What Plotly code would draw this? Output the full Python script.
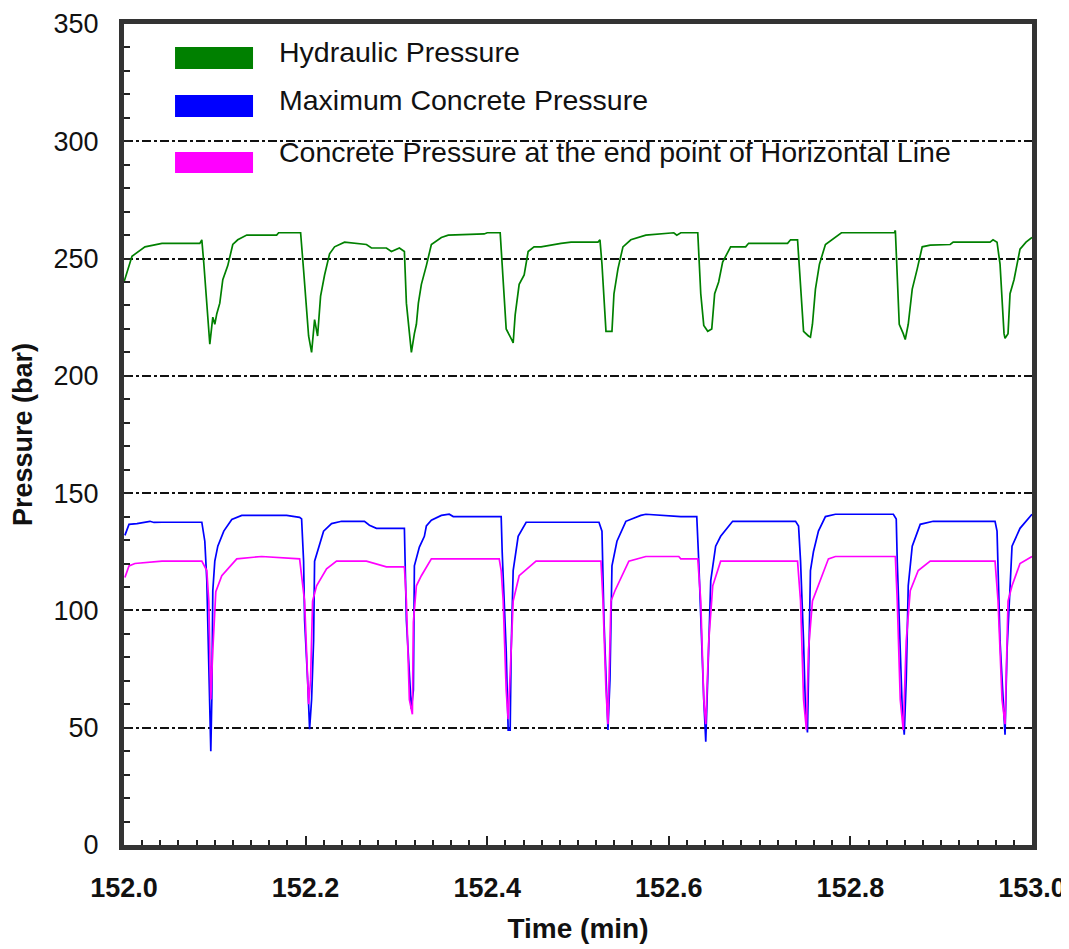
import plotly.graph_objects as go

# ---------------- data ----------------
hyd_t = [152.000, 152.0088, 152.0231, 152.0418, 152.0835, 152.0857, 152.0879, 152.0934, 152.0945,
         152.0978, 152.1000, 152.1022, 152.1055, 152.1088, 152.1143, 152.1198, 152.1253, 152.1352,
         152.1681, 152.1703, 152.1945, 152.1978, 152.2033, 152.2066, 152.2077, 152.2099, 152.2132,
         152.2143, 152.2165, 152.2209, 152.2264, 152.2319, 152.2429, 152.2670, 152.2725, 152.2890,
         152.2945, 152.3033, 152.3088, 152.3110, 152.3143, 152.3165, 152.3198, 152.3220, 152.3242,
         152.3275, 152.3330, 152.3385, 152.3495, 152.3571, 152.3967, 152.4000, 152.4143, 152.4187,
         152.4209, 152.4275, 152.4286, 152.4308, 152.4352, 152.4407, 152.4451, 152.4516, 152.4593,
         152.4813, 152.4923, 152.5220, 152.5242, 152.5264, 152.5286, 152.5308, 152.5374, 152.5396,
         152.5440, 152.5495, 152.5582, 152.5747, 152.6055, 152.6088, 152.6132, 152.6319, 152.6352,
         152.6385, 152.6429, 152.6473, 152.6505, 152.6549, 152.6593, 152.6681, 152.6846, 152.6879,
         152.7308, 152.7341, 152.7418, 152.7462, 152.7484, 152.7538, 152.7560, 152.7582, 152.7615,
         152.7659, 152.7725, 152.7901, 152.8484, 152.8495, 152.8516, 152.8538, 152.8582, 152.8604,
         152.8637, 152.8681, 152.8736, 152.8791, 152.8879, 152.9099, 152.9132, 152.9538, 152.9571,
         152.9615, 152.9648, 152.9670, 152.9692, 152.9703, 152.9736, 152.9758, 152.9802, 152.9868,
         152.9934, 153.000]
hyd_p = [240, 251, 255, 256.5, 256.5, 258, 248, 218, 213.5,
         225, 222, 226.5, 231, 241, 247, 256, 258, 260,
         260, 261, 261, 245, 217, 210, 216, 224, 217,
         222, 234, 243, 252, 255, 257, 256, 254.5, 254.5,
         253, 254.5, 253, 231, 218, 210, 218, 222, 231,
         239, 247, 256, 259, 260, 260.5, 261, 261, 235,
         220, 215, 214, 226, 239, 243, 253, 255, 255,
         256.5, 257, 257, 258, 247.6, 231, 219, 219, 235,
         245.6, 255, 258, 260, 261, 260, 261, 261, 235,
         221.5, 219, 220, 235, 240, 248.5, 255, 255, 256.5,
         256.5, 258, 258, 231, 219, 217, 216.5, 222, 237,
         247.6, 256, 261, 261, 262, 239, 222, 218, 215.5,
         222, 237, 245.6, 255, 255.7, 256, 257, 257, 258,
         257, 247.6, 231, 218, 216, 218, 235, 241, 254,
         257, 259]

max_t = [152.001, 152.0055, 152.0143, 152.0286, 152.0330, 152.0418, 152.0857, 152.0890, 152.0912,
         152.0934, 152.0945, 152.0956, 152.0967, 152.0978, 152.1000, 152.1033, 152.1099, 152.1187,
         152.1297, 152.1791, 152.1934, 152.1956, 152.1978, 152.1989, 152.2022, 152.2044, 152.2066,
         152.2088, 152.2099, 152.2132, 152.2198, 152.2286, 152.2396, 152.2648, 152.2703, 152.2780,
         152.3088, 152.3110, 152.3143, 152.3165, 152.3187, 152.3198, 152.3253, 152.3308, 152.3330,
         152.3385, 152.3495, 152.3582, 152.3626, 152.4154, 152.4165, 152.4187, 152.4209, 152.4231,
         152.4253, 152.4264, 152.4286, 152.4341, 152.4429, 152.5231, 152.5264, 152.5286, 152.5308,
         152.5330, 152.5352, 152.5374, 152.5429, 152.5527, 152.5692, 152.5747, 152.6132, 152.6308,
         152.6330, 152.6352, 152.6385, 152.6407, 152.6429, 152.6462, 152.6516, 152.6571, 152.6703,
         152.7396, 152.7429, 152.7451, 152.7484, 152.7505, 152.7527, 152.7538, 152.7560, 152.7593,
         152.7648, 152.7725, 152.7835, 152.8473, 152.8505, 152.8516, 152.8549, 152.8571, 152.8593,
         152.8615, 152.8637, 152.8681, 152.8769, 152.8912, 152.9593, 152.9615, 152.9648, 152.9681,
         152.9703, 152.9725, 152.9758, 152.9780, 152.9868, 152.9978, 153.000]
max_p = [132, 136.7, 137, 138, 137.5, 137.6, 137.6, 129.5, 112.7,
         70.5, 62, 40, 62, 108.4, 121, 127.4, 133.8, 138.8,
         140.5, 140.5, 139.7, 139, 121, 95.8, 70.5, 49.4, 62,
         87, 121, 125.3, 133.8, 137, 138, 138, 136.3, 135,
         135, 95.8, 74.7, 58, 66, 119, 127, 131.6, 136,
         138.5, 140.5, 141, 140, 140, 125, 104, 83, 49,
         49, 83, 117, 131.6, 137.6, 137.6, 133.8, 95.8, 70.5,
         49, 70.5, 119, 129.5, 138, 140.5, 141, 140, 140,
         121, 95.8, 62, 44, 70.5, 112.7, 127.4, 131.6, 138,
         138, 136, 121, 87, 58, 48, 70.5, 117, 125,
         133.8, 140, 141, 141, 139, 121, 79, 58, 47,
         70.5, 110.5, 127.4, 136.7, 138, 138, 133.8, 87, 62,
         47, 83, 112.7, 127.4, 135, 140, 141]

end_t = [152.001, 152.0055, 152.0120, 152.0418, 152.0857, 152.0912, 152.0934, 152.0945, 152.0956,
         152.0978, 152.1011, 152.1077, 152.1242, 152.1516, 152.1934, 152.1989, 152.2011, 152.2033,
         152.2055, 152.2077, 152.2121, 152.2231, 152.2341, 152.2670, 152.2890, 152.3088, 152.3110,
         152.3143, 152.3176, 152.3187, 152.3220, 152.3275, 152.3385, 152.4132, 152.4154, 152.4176,
         152.4209, 152.4231, 152.4264, 152.4286, 152.4352, 152.4538, 152.5253, 152.5275, 152.5308,
         152.5330, 152.5363, 152.5407, 152.5560, 152.5747, 152.6110, 152.6132, 152.6319, 152.6352,
         152.6385, 152.6407, 152.6440, 152.6484, 152.6571, 152.7418, 152.7451, 152.7484, 152.7516,
         152.7538, 152.7582, 152.7648, 152.7758, 152.7835, 152.8495, 152.8516, 152.8549, 152.8582,
         152.8615, 152.8659, 152.8747, 152.8879, 152.9593, 152.9626, 152.9670, 152.9703, 152.9736,
         152.9780, 152.9868, 153.000]
end_p = [114, 119, 120, 121, 121, 117, 104, 74.7, 62,
         83, 108, 114.8, 122, 123, 122, 104, 79, 60,
         70.5, 104, 110.5, 117.7, 121, 121, 118.6, 118.6, 104,
         62, 55.7, 95, 110.5, 114.8, 122, 122, 117, 104,
         66, 53.6, 83, 104, 114.8, 121, 121, 104, 66,
         51.5, 104, 108.4, 121, 123, 123, 122, 122, 104,
         62, 51.5, 87, 110.5, 121, 121, 104, 62, 49,
         83, 104, 110.5, 122, 123, 123, 104, 62, 49,
         87, 108.4, 117, 121, 121, 104, 62, 51.5, 104,
         110.5, 120, 123]

series_names = ["Hydraulic Pressure", "Maximum Concrete Pressure",
                "Concrete Pressure at the end point of Horizontal Line"]
series_colors = ["#008000", "#0000ff", "#ff00ff"]

x_range = [152.0, 153.0]
y_range = [0, 350]

# ---------------- figure ----------------
fig = go.Figure()
for t, p, name, col in zip([hyd_t, max_t, end_t], [hyd_p, max_p, end_p], series_names, series_colors):
    fig.add_trace(go.Scatter(x=t, y=p, mode="lines", name=name,
                             line=dict(color=col, width=1.7), showlegend=False))

# legend drawn inside the plot (swatch + label)
sw_x0, sw_x1, txt_x = 0.0562, 0.1421, 0.1690
sw_rows = [(0.9452, 0.9720, 0.9659), (0.8867, 0.9135, 0.9074), (0.8185, 0.8441, 0.8441)]
for (y0, y1, ty), name, col in zip(sw_rows, series_names, series_colors):
    fig.add_shape(type="rect", xref="paper", yref="paper", x0=sw_x0, x1=sw_x1, y0=y0, y1=y1,
                  fillcolor=col, line=dict(width=0))
    fig.add_annotation(xref="paper", yref="paper", x=txt_x, y=ty, text=name, showarrow=False,
                       xanchor="left", yanchor="middle",
                       font=dict(family="Liberation Sans, Arial", size=28.5, color="#111111"))

axis_common = dict(showline=True, linecolor="#333333", linewidth=5, mirror=True,
                   ticks="inside", tickcolor="#222222", tickwidth=1.5, zeroline=False,
                   automargin=False, ticklabeloverflow="allow")

fig.update_xaxes(range=x_range, dtick=0.2, tick0=152.0, tickformat=".1f", ticklen=9,
                 minor=dict(dtick=0.02, ticks="inside", ticklen=5, tickcolor="#222222", showgrid=False),
                 showgrid=False, ticklabelstandoff=15,
                 tickfont=dict(family="Liberation Sans, Arial", size=27, color="#111111", weight="bold"),
                 title=dict(text="Time (min)", standoff=17,
                            font=dict(family="Liberation Sans, Arial", size=28, color="#111111", weight="bold")),
                 **axis_common)
fig.update_yaxes(range=y_range, dtick=50, tick0=0, ticklen=6,
                 minor=dict(dtick=10, ticks="inside", ticklen=6, tickcolor="#222222", showgrid=False),
                 showgrid=True, gridcolor="#111111", gridwidth=1.5, griddash="dashdot",
                 ticklabelstandoff=15,
                 tickfont=dict(family="Liberation Sans, Arial", size=27, color="#111111"),
                 title=dict(text="Pressure (bar)", standoff=28,
                            font=dict(family="Liberation Sans, Arial", size=27, color="#111111", weight="bold")),
                 **axis_common)

fig.update_layout(width=1061, height=941, margin=dict(l=116, r=37, t=16, b=104),
                  paper_bgcolor="white", plot_bgcolor="white", showlegend=False)

fig.write_html("out.html")
